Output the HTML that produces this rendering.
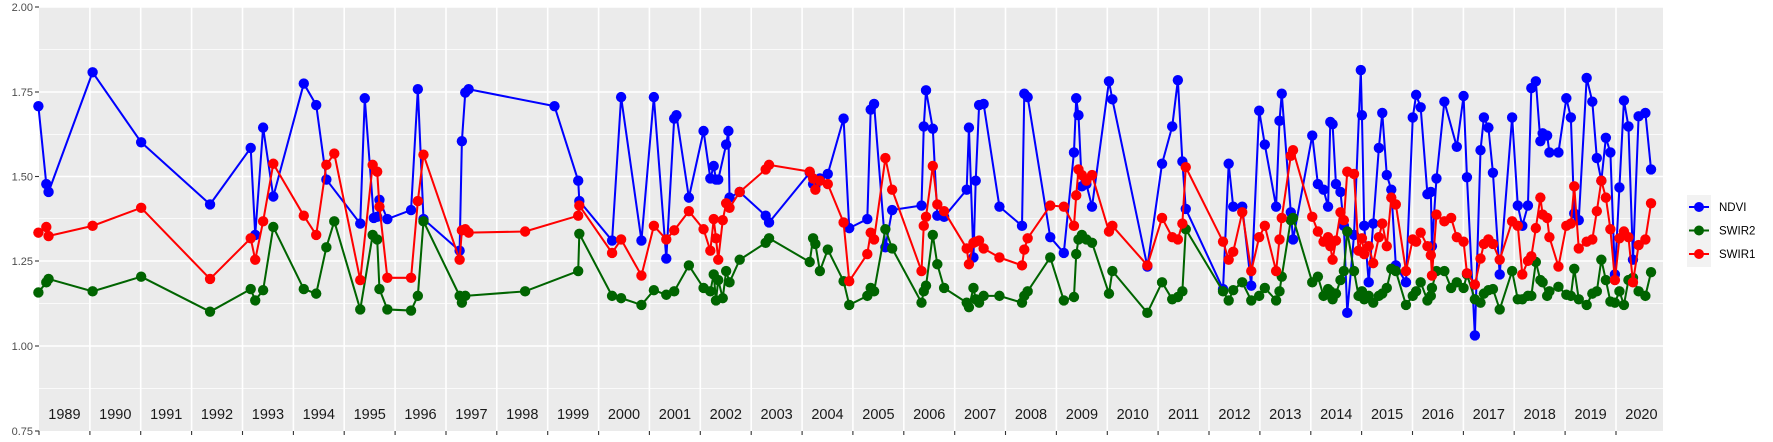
<!DOCTYPE html>
<html><head><meta charset="utf-8"><style>
html,body{margin:0;padding:0;background:#fff;}
svg{display:block;font-family:"Liberation Sans",sans-serif;}
</style></head><body>
<svg width="1773" height="442" viewBox="0 0 1773 442" xmlns="http://www.w3.org/2000/svg">
<defs>
<marker id="mb" markerUnits="userSpaceOnUse" markerWidth="12" markerHeight="12" refX="6" refY="6"><circle cx="6" cy="6" r="4.6" fill="#0000ff"/></marker>
<marker id="mg" markerUnits="userSpaceOnUse" markerWidth="12" markerHeight="12" refX="6" refY="6"><circle cx="6" cy="6" r="4.6" fill="#006400"/></marker>
<marker id="mr" markerUnits="userSpaceOnUse" markerWidth="12" markerHeight="12" refX="6" refY="6"><circle cx="6" cy="6" r="4.6" fill="#ff0000"/></marker>
</defs>
<rect x="39" y="7" width="1624" height="424" fill="#ebebeb"/>
<g stroke="#fff" stroke-width="0.7">
<line x1="39" x2="1663" y1="49.5" y2="49.5"/><line x1="39" x2="1663" y1="134.5" y2="134.5"/><line x1="39" x2="1663" y1="218.5" y2="218.5"/><line x1="39" x2="1663" y1="303.5" y2="303.5"/><line x1="39" x2="1663" y1="388.5" y2="388.5"/>
</g>
<g stroke="#fff" stroke-width="1.6">
<line x1="39" x2="1663" y1="7" y2="7"/><line x1="39" x2="1663" y1="92" y2="92"/><line x1="39" x2="1663" y1="176.5" y2="176.5"/><line x1="39" x2="1663" y1="261" y2="261"/><line x1="39" x2="1663" y1="346" y2="346"/>
</g>
<g stroke="#fff" stroke-width="1.6" id="vg">
<line x1="89.9" x2="89.9" y1="7" y2="431"/><line x1="140.7" x2="140.7" y1="7" y2="431"/><line x1="191.6" x2="191.6" y1="7" y2="431"/><line x1="242.5" x2="242.5" y1="7" y2="431"/><line x1="293.4" x2="293.4" y1="7" y2="431"/><line x1="344.2" x2="344.2" y1="7" y2="431"/><line x1="395.1" x2="395.1" y1="7" y2="431"/><line x1="446" x2="446" y1="7" y2="431"/><line x1="496.8" x2="496.8" y1="7" y2="431"/><line x1="547.7" x2="547.7" y1="7" y2="431"/><line x1="598.6" x2="598.6" y1="7" y2="431"/><line x1="649.4" x2="649.4" y1="7" y2="431"/><line x1="700.3" x2="700.3" y1="7" y2="431"/><line x1="751.2" x2="751.2" y1="7" y2="431"/><line x1="802.1" x2="802.1" y1="7" y2="431"/><line x1="852.9" x2="852.9" y1="7" y2="431"/><line x1="903.8" x2="903.8" y1="7" y2="431"/><line x1="954.7" x2="954.7" y1="7" y2="431"/><line x1="1005.5" x2="1005.5" y1="7" y2="431"/><line x1="1056.4" x2="1056.4" y1="7" y2="431"/><line x1="1107.3" x2="1107.3" y1="7" y2="431"/><line x1="1158.1" x2="1158.1" y1="7" y2="431"/><line x1="1209" x2="1209" y1="7" y2="431"/><line x1="1259.9" x2="1259.9" y1="7" y2="431"/><line x1="1310.8" x2="1310.8" y1="7" y2="431"/><line x1="1361.6" x2="1361.6" y1="7" y2="431"/><line x1="1412.5" x2="1412.5" y1="7" y2="431"/><line x1="1463.4" x2="1463.4" y1="7" y2="431"/><line x1="1514.2" x2="1514.2" y1="7" y2="431"/><line x1="1565.1" x2="1565.1" y1="7" y2="431"/><line x1="1616" x2="1616" y1="7" y2="431"/>
</g>
<g stroke="#333" stroke-width="1.1">
<line x1="39" x2="39" y1="431" y2="435"/><line x1="89.9" x2="89.9" y1="431" y2="435"/><line x1="140.7" x2="140.7" y1="431" y2="435"/><line x1="191.6" x2="191.6" y1="431" y2="435"/><line x1="242.5" x2="242.5" y1="431" y2="435"/><line x1="293.4" x2="293.4" y1="431" y2="435"/><line x1="344.2" x2="344.2" y1="431" y2="435"/><line x1="395.1" x2="395.1" y1="431" y2="435"/><line x1="446" x2="446" y1="431" y2="435"/><line x1="496.8" x2="496.8" y1="431" y2="435"/><line x1="547.7" x2="547.7" y1="431" y2="435"/><line x1="598.6" x2="598.6" y1="431" y2="435"/><line x1="649.4" x2="649.4" y1="431" y2="435"/><line x1="700.3" x2="700.3" y1="431" y2="435"/><line x1="751.2" x2="751.2" y1="431" y2="435"/><line x1="802.1" x2="802.1" y1="431" y2="435"/><line x1="852.9" x2="852.9" y1="431" y2="435"/><line x1="903.8" x2="903.8" y1="431" y2="435"/><line x1="954.7" x2="954.7" y1="431" y2="435"/><line x1="1005.5" x2="1005.5" y1="431" y2="435"/><line x1="1056.4" x2="1056.4" y1="431" y2="435"/><line x1="1107.3" x2="1107.3" y1="431" y2="435"/><line x1="1158.1" x2="1158.1" y1="431" y2="435"/><line x1="1209" x2="1209" y1="431" y2="435"/><line x1="1259.9" x2="1259.9" y1="431" y2="435"/><line x1="1310.8" x2="1310.8" y1="431" y2="435"/><line x1="1361.6" x2="1361.6" y1="431" y2="435"/><line x1="1412.5" x2="1412.5" y1="431" y2="435"/><line x1="1463.4" x2="1463.4" y1="431" y2="435"/><line x1="1514.2" x2="1514.2" y1="431" y2="435"/><line x1="1565.1" x2="1565.1" y1="431" y2="435"/><line x1="1616" x2="1616" y1="431" y2="435"/>
<line x1="35" x2="39" y1="7" y2="7"/><line x1="35" x2="39" y1="92" y2="92"/><line x1="35" x2="39" y1="176.5" y2="176.5"/><line x1="35" x2="39" y1="261" y2="261"/><line x1="35" x2="39" y1="346" y2="346"/><line x1="35" x2="39" y1="431" y2="431"/>
</g>
<g font-size="11" fill="#4d4d4d" text-anchor="end">
<text x="33" y="11">2.00</text><text x="33" y="96">1.75</text><text x="33" y="180.5">1.50</text><text x="33" y="265">1.25</text><text x="33" y="350">1.00</text><text x="33" y="435">0.75</text>
</g>
<g font-size="14.5" fill="#1a1a1a" text-anchor="middle">
<text x="64.4" y="419">1989</text><text x="115.3" y="419">1990</text><text x="166.2" y="419">1991</text><text x="217" y="419">1992</text><text x="267.9" y="419">1993</text><text x="318.8" y="419">1994</text><text x="369.7" y="419">1995</text><text x="420.5" y="419">1996</text><text x="471.4" y="419">1997</text><text x="522.3" y="419">1998</text><text x="573.1" y="419">1999</text><text x="624" y="419">2000</text><text x="674.9" y="419">2001</text><text x="725.8" y="419">2002</text><text x="776.6" y="419">2003</text><text x="827.5" y="419">2004</text><text x="878.4" y="419">2005</text><text x="929.2" y="419">2006</text><text x="980.1" y="419">2007</text><text x="1031" y="419">2008</text><text x="1081.9" y="419">2009</text><text x="1132.7" y="419">2010</text><text x="1183.6" y="419">2011</text><text x="1234.5" y="419">2012</text><text x="1285.3" y="419">2013</text><text x="1336.2" y="419">2014</text><text x="1387.1" y="419">2015</text><text x="1437.9" y="419">2016</text><text x="1488.8" y="419">2017</text><text x="1539.7" y="419">2018</text><text x="1590.6" y="419">2019</text><text x="1641.4" y="419">2020</text>
</g>
<g transform="scale(1.1293)" fill="none" stroke-width="1.8" stroke-linejoin="round">
<polyline stroke="#0000ff" marker-start="url(#mb)" marker-mid="url(#mb)" marker-end="url(#mb)" points="34,94 41,163 43,170 82,64 125,126 186,181 222,131 226,208 233,113 242,174 269,74 280,93 289,159 319,198 323,87 331,193 334,192 336,177 343,194 364,186 370,79 375,194 407,222 409,125 412,82 415,79 491,94 512,160 513,178 542,213 550,86 568,213 579,86 590,229 597,105 599,102 610,175 623,116 629,158 632,147 634,159 636,159 643,128 645,116 646,175 655,170 678,191 681,197 717,153 720,163 722,165 726,158 733,154 747,105 752,202 768,194 771,97 774,92 784,219 790,186 816,182 818,112 820,80 826,114 830,191 836,192 856,168 858,113 862,228 864,160 867,93 871,92 885,183 905,200 907,83 910,86 930,210 942,224 951,135 953,87 955,102 958,165 962,163 967,183 982,72 985,88 1016,236 1029,145 1038,112 1043,71 1047,143 1050,185 1083,256 1088,145 1092,183 1100,183 1108,253 1115,98 1120,128 1130,183 1133,107 1135,83 1143,188 1145,212 1162,120 1167,163 1172,168 1176,183 1178,108 1180,110 1183,163 1187,170 1190,200 1193,277 1199,208 1205,62 1206,102 1208,200 1212,250 1216,198 1221,131 1224,100 1228,155 1232,168 1236,235 1245,250 1251,104 1254,84 1258,95 1264,172 1267,170 1268,218 1272,158 1279,90 1290,130 1296,85 1299,157 1306,297 1311,133 1314,104 1318,113 1322,153 1328,243 1339,104 1344,182 1348,200 1353,182 1356,78 1360,72 1364,125 1366,118 1370,120 1372,135 1380,135 1387,87 1391,104 1394,189 1398,195 1405,69 1410,90 1414,140 1418,160 1422,122 1426,135 1430,243 1434,166 1438,89 1442,112 1446,230 1451,103 1457,100 1462,150"/>
<polyline stroke="#006400" marker-start="url(#mg)" marker-mid="url(#mg)" marker-end="url(#mg)" points="34,259 41,250 43,247 82,258 125,245 186,276 222,256 226,266 233,257 242,201 269,256 280,260 289,219 296,196 319,274 330,208 334,212 336,256 343,274 364,275 370,262 375,196 407,262 409,268 412,262 465,258 512,240 513,207 542,262 550,264 568,270 579,257 590,261 597,258 610,235 623,255 629,258 632,243 634,266 636,248 640,264 643,240 646,250 655,230 678,215 681,211 717,232 720,211 722,216 726,240 733,221 747,249 752,270 768,262 771,255 774,258 784,203 790,220 816,268 818,258 820,253 826,208 830,234 836,255 856,268 858,272 862,255 864,265 867,268 871,262 885,262 905,268 907,262 910,258 930,228 942,266 951,263 953,225 955,212 958,208 962,212 967,215 982,260 985,240 1016,277 1029,250 1038,265 1043,263 1047,258 1050,203 1083,258 1088,266 1092,257 1100,250 1108,266 1115,262 1120,255 1130,266 1133,258 1135,245 1143,195 1145,193 1162,250 1167,245 1172,262 1176,256 1178,258 1180,265 1183,260 1187,248 1190,240 1193,205 1199,240 1203,262 1206,258 1208,265 1212,262 1216,268 1221,262 1224,260 1228,255 1232,238 1236,240 1245,270 1251,262 1254,258 1258,250 1264,266 1267,262 1268,255 1272,240 1279,240 1285,255 1290,250 1296,255 1299,243 1306,265 1311,268 1314,260 1318,257 1322,256 1328,274 1339,240 1344,265 1348,265 1353,262 1356,262 1360,232 1364,248 1366,250 1370,262 1372,258 1380,254 1387,261 1391,262 1394,238 1398,265 1405,270 1410,260 1414,258 1418,230 1422,248 1426,267 1430,268 1434,258 1438,270 1442,248 1446,246 1451,258 1457,262 1462,241"/>
<polyline stroke="#ff0000" marker-start="url(#mr)" marker-mid="url(#mr)" marker-end="url(#mr)" points="34,206 41,201 43,209 82,200 125,184 186,247 222,211 226,230 233,196 242,145 269,191 280,208 289,146 296,136 319,248 330,146 334,152 336,183 343,246 364,246 370,178 375,137 407,230 409,204 412,203 415,206 465,205 512,191 513,182 542,224 550,212 568,244 579,200 590,212 597,204 610,187 623,203 629,222 632,194 634,211 636,230 640,195 643,180 646,184 655,170 678,150 681,146 717,152 720,158 722,168 726,160 733,163 747,197 752,249 768,225 771,206 774,212 784,140 790,168 816,240 818,200 820,192 826,147 830,181 836,187 856,220 858,234 862,215 864,214 867,213 871,220 885,228 905,235 907,221 910,211 930,182 942,183 951,200 953,173 955,150 958,155 962,160 967,155 982,205 985,200 1016,235 1029,193 1038,210 1043,212 1047,198 1050,148 1083,214 1088,230 1092,223 1100,188 1108,240 1115,210 1120,200 1130,240 1133,212 1135,193 1143,138 1145,133 1162,192 1167,205 1172,214 1176,210 1178,218 1180,230 1183,213 1187,188 1190,195 1193,152 1199,154 1203,222 1206,211 1208,225 1212,218 1216,233 1221,210 1224,198 1228,218 1232,175 1236,181 1245,240 1251,212 1254,214 1258,206 1264,218 1267,226 1268,244 1272,190 1279,196 1285,193 1290,210 1296,214 1299,242 1306,252 1311,229 1314,216 1318,212 1322,216 1328,230 1339,196 1344,200 1348,243 1353,231 1356,227 1360,202 1364,175 1366,190 1370,193 1372,210 1380,236 1387,200 1391,198 1394,165 1398,220 1405,214 1410,212 1414,187 1418,160 1422,175 1426,203 1430,248 1434,211 1438,205 1442,210 1446,250 1451,217 1457,212 1462,180"/>
</g>
<rect x="1687" y="195" width="24" height="72" fill="#f2f2f2"/>
<g stroke-width="2">
<line x1="1689" x2="1709" y1="207" y2="207" stroke="#0000ff"/><circle cx="1699" cy="207" r="5" fill="#0000ff"/>
<line x1="1689" x2="1709" y1="230.5" y2="230.5" stroke="#006400"/><circle cx="1699" cy="230.5" r="5" fill="#006400"/>
<line x1="1689" x2="1709" y1="254" y2="254" stroke="#ff0000"/><circle cx="1699" cy="254" r="5" fill="#ff0000"/>
</g>
<g font-size="11.5" fill="#000">
<text x="1719" y="211">NDVI</text><text x="1719" y="234.5">SWIR2</text><text x="1719" y="258">SWIR1</text>
</g>
</svg>
</body></html>
